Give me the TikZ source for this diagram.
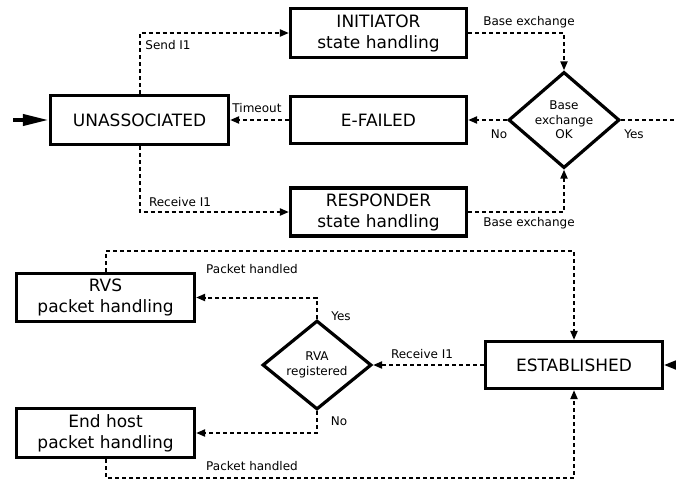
\documentclass[tikz,border=0pt]{standalone}
\usepackage{fontspec}
\setmainfont{DejaVu Sans}
\usetikzlibrary{arrows.meta,shapes.geometric}

\tikzset{
  statebox/.style={draw, line width=3.2pt, rectangle, inner sep=0pt, align=center,
    font=\fontsize{17}{21}\selectfont},
  decision/.style={draw, line width=3.2pt, diamond, inner sep=0pt, align=center,
    font=\fontsize{12}{14.5}\selectfont},
  lbl/.style={inner sep=0pt, font=\fontsize{12}{14}\selectfont},
  dashline/.style={line width=2pt, dash pattern=on 4pt off 3pt},
  flow/.style={dashline, -{Triangle[length=9pt,width=7pt]}},
  entry/.style={line width=4pt, -{Triangle[length=26pt,width=11pt]}},
  sideentry/.style={line width=2pt, -{Triangle[length=12pt,width=9pt]}}
}

\begin{document}
\begin{tikzpicture}[x=1pt,y=-1pt]
  \useasboundingbox (0,0) rectangle (676,482);
  \clip (0,0) rectangle (676,482);

  % association setup states
  \node[statebox, minimum width=178pt, minimum height=49pt] (un) at (139.5,120) {UNASSOCIATED};
  \node[statebox, minimum width=176pt, minimum height=49pt] (init) at (378.5,33) {INITIATOR\\state handling};
  \node[statebox, minimum width=176pt, minimum height=47pt] (fail) at (378.5,120) {E-FAILED};
  \node[statebox, minimum width=176pt, minimum height=48pt] (resp) at (378.5,212) {RESPONDER\\state handling};
  \node[decision, minimum width=111pt, minimum height=87pt] (bx) at (564,120) {Base\\exchange\\OK};

  % established-state handling
  \node[statebox, minimum width=178pt, minimum height=48pt] (rvs) at (105.5,297.5) {RVS\\packet handling};
  \node[statebox, minimum width=178pt, minimum height=49pt] (host) at (105.5,433) {End host\\packet handling};
  \node[decision, minimum width=109pt, minimum height=89pt] (rva) at (317,365) {RVA\\registered};
  \node[statebox, minimum width=177pt, minimum height=47pt] (est) at (574,365) {ESTABLISHED};

  % entry points
  \coordinate (start) at (13,120);
  \coordinate (estin) at (700,365);
  \coordinate (yesout) at (676,120);
  \draw[entry] (start) -- (un.west);
  \draw[sideentry] (estin) -- (est.east);

  % upper connectors
  \draw[flow] (un.north) |- (init.west);
  \draw[flow] (un.south) |- (resp.west);
  \draw[flow] (fail.west) -- (un.east);
  \draw[flow] (init.east) -| (bx.north);
  \draw[flow] (resp.east) -| (bx.south);
  \draw[flow] (bx.west) -- (fail.east);
  \draw[dashline] (bx.east) -- (yesout);

  % lower connectors
  \draw[flow] (est.west) -- (rva.east);
  \draw[flow] (rva.north) |- (rvs.east);
  \draw[flow] (rva.south) |- (host.east);
  \draw[flow] (rvs.north) -- ++(0,-20.5) -| (est.north);
  \draw[flow] (host.south) -- ++(0,18.5) -| (est.south);

  % connector labels
  \node[lbl] (lsend) at (168,45) {Send I1};
  \node[lbl] (lrecv) at (180,202) {Receive I1};
  \node[lbl] (ltime) at (257,108) {Timeout};
  \node[lbl] (lbx1) at (529,22) {Base exchange};
  \node[lbl] (lbx2) at (529,223) {Base exchange};
  \node[lbl] (lno1) at (499,134) {No};
  \node[lbl] (lyes1) at (634,134) {Yes};
  \node[lbl] (lph1) at (252,269) {Packet handled};
  \node[lbl] (lph2) at (252,466) {Packet handled};
  \node[lbl] (lyes2) at (341,316) {Yes};
  \node[lbl] (lno2) at (339,421) {No};
  \node[lbl] (lrecv2) at (422,354) {Receive I1};
\end{tikzpicture}
\end{document}
